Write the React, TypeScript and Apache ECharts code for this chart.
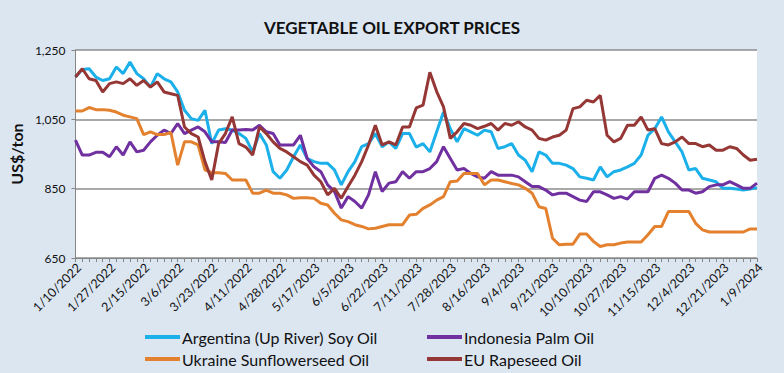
import { useEffect, useRef } from "react";
import * as echarts from "echarts";

const dateLabels = [
  "1/10/2022", "1/27/2022", "2/15/2022", "3/6/2022", "3/23/2022", "4/11/2022", "4/28/2022",
  "5/17/2023", "6/5/2023", "6/22/2023", "7/11/2023", "7/28/2023", "8/16/2023", "9/4/2023",
  "9/21/2023", "10/10/2023", "10/27/2023", "11/15/2023", "12/4/2023", "12/21/2023", "1/9/2024",
];

const argentinaSoy = [
  1172, 1194, 1196, 1172, 1162, 1167, 1201, 1182, 1215, 1182, 1167, 1143, 1182, 1167, 1158, 1129, 1076, 1052, 1047, 1076, 980, 1019, 1023, 1019, 1009, 995,
  956, 1009, 976, 899, 880, 904, 942, 976, 937, 928, 923, 923, 904, 861, 899, 928, 971, 980, 1009, 971, 985, 966, 1009, 1009, 970,
  980, 956, 1014, 1071, 1023, 985, 1023, 1014, 1004, 1019, 1014, 966, 971, 980, 947, 932, 899, 956, 947, 923, 923, 918, 908, 884, 880,
  875, 913, 884, 899, 904, 913, 923, 947, 1004, 1023, 1057, 1014, 985, 956, 904, 908, 880, 875, 870, 851, 851, 849, 846, 849, 853,
];

const indonesiaPalm = [
  990, 947, 947, 955, 955, 942, 971, 947, 985, 956, 961, 985, 1004, 1019, 1009, 1038, 1009, 1019, 1028, 1014, 985, 985, 983, 1019, 1019, 1021,
  1019, 1033, 1014, 1009, 976, 976, 976, 1004, 937, 913, 899, 861, 842, 794, 827, 813, 794, 832, 899, 842, 866, 870, 899, 880, 899,
  899, 908, 928, 971, 937, 904, 908, 894, 884, 880, 899, 889, 889, 889, 884, 870, 856, 856, 846, 832, 837, 837, 827, 817, 813,
  841, 841, 832, 822, 827, 820, 841, 841, 841, 880, 889, 880, 866, 846, 846, 837, 841, 856, 861, 861, 870, 861, 851, 851, 866,
];

const ukraineSunflower = [
  1074, 1074, 1084, 1078, 1078, 1076, 1071, 1062, 1057, 1052, 1006, 1014, 1006, 1006, 1012, 918, 985, 985, 976, 904, 896, 896, 894, 875, 875, 875,
  837, 837, 846, 837, 837, 832, 822, 824, 824, 822, 808, 803, 779, 760, 755, 746, 741, 734, 736, 741, 746, 746, 746, 774, 776,
  793, 803, 817, 827, 870, 872, 894, 894, 894, 861, 875, 875, 870, 865, 861, 851, 837, 798, 793, 707, 688, 690, 690, 719, 719,
  698, 683, 688, 688, 693, 696, 696, 696, 717, 741, 741, 784, 784, 784, 784, 750, 731, 725, 725, 725, 725, 725, 725, 734, 734,
];

const euRapeseed = [
  1172, 1196, 1167, 1162, 1129, 1153, 1158, 1153, 1167, 1148, 1162, 1143, 1158, 1129, 1124, 1119, 1028, 1009, 999, 928, 875, 980, 1009, 1057, 980, 970,
  947, 1028, 1009, 985, 966, 956, 942, 928, 918, 889, 870, 832, 851, 822, 856, 889, 928, 976, 1033, 976, 985, 976, 1028, 1028, 1083,
  1091, 1186, 1130, 1086, 995, 1014, 1038, 1033, 1023, 1030, 1038, 1019, 1038, 1033, 1043, 1028, 1019, 995, 990, 999, 1004, 1019, 1081, 1086, 1105,
  1100, 1119, 1004, 985, 995, 1033, 1033, 1057, 1019, 1023, 980, 976, 985, 999, 980, 980, 971, 976, 961, 961, 971, 966, 947, 932, 935,
];

const seriesNames = [
  "Argentina (Up River) Soy Oil",
  "Indonesia Palm Oil",
  "Ukraine Sunflowerseed Oil",
  "EU Rapeseed Oil",
];
const seriesColors = ["#1CB0EA", "#7030A0", "#E3812F", "#953735"];
const yTicks = [650, 850, 1050, 1250];
const POINTS_PER_LABEL = 5;

export default function App() {
  const ref = useRef<HTMLDivElement>(null);

  useEffect(() => {
    if (!ref.current) return;
    const chart = echarts.init(ref.current, null, { renderer: "svg" });
    const font = "Lato, 'Liberation Sans', sans-serif";
    const categories = argentinaSoy.map((_, i) =>
      i % POINTS_PER_LABEL === 0 ? dateLabels[i / POINTS_PER_LABEL] : `p${i}`
    );
    const values = [argentinaSoy, indonesiaPalm, ukraineSunflower, euRapeseed];

    const legendPos = [
      { left: 145, top: 329 },
      { left: 427, top: 329 },
      { left: 145, top: 351 },
      { left: 427, top: 351 },
    ];

    chart.setOption({
      animation: false,
      backgroundColor: "#DCE6F1",
      title: {
        text: "VEGETABLE OIL EXPORT PRICES",
        left: "center",
        top: 14,
        textStyle: { fontFamily: font, fontSize: 17, fontWeight: "bold", color: "#111" },
      },
      grid: {
        left: 73,
        right: 27,
        top: 50,
        bottom: 115,
        show: true,
        backgroundColor: "#ffffff",
        borderWidth: 0,
      },
      legend: seriesNames.map((name, i) => ({
        data: [name],
        left: legendPos[i].left,
        top: legendPos[i].top,
        padding: 0,
        icon: "rect",
        itemWidth: 35,
        itemHeight: 4,
        itemGap: 0,
        textStyle: { fontFamily: font, fontSize: 16, color: "#111", padding: [0, 0, 0, -3] },
      })),
      xAxis: {
        type: "category",
        data: categories,
        boundaryGap: false,
        axisLine: { lineStyle: { color: "#868686", width: 1 } },
        axisTick: { show: true, interval: 0, length: 4, lineStyle: { color: "#868686" } },
        axisLabel: {
          interval: (idx: number) => idx % POINTS_PER_LABEL === 0,
          rotate: 45,
          margin: 11,
          padding: [0, -5, 0, 0],
          fontFamily: font,
          fontSize: 12.5,
          color: "#111",
        },
        splitLine: { show: false },
      },
      yAxis: {
        type: "value",
        min: 650,
        max: 1250,
        name: "US$/ton",
        nameLocation: "middle",
        nameRotate: 90,
        nameGap: 48,
        nameTextStyle: { fontFamily: font, fontSize: 16, fontWeight: "bold", color: "#111" },
        axisLine: { show: true, lineStyle: { color: "#868686", width: 1 } },
        axisTick: { show: true, length: 4, customValues: yTicks, lineStyle: { color: "#868686" } },
        axisLabel: {
          customValues: yTicks,
          margin: 10,
          fontFamily: font,
          fontSize: 12,
          color: "#111",
          formatter: (v: number) => v.toLocaleString("en-US"),
        },
        splitLine: { show: true, lineStyle: { color: "#8C8C8C", width: 1.5 } },
      },
      series: seriesNames.map((name, i) => ({
        name,
        type: "line",
        data: values[i],
        symbol: "none",
        lineStyle: { color: seriesColors[i], width: 3 },
        itemStyle: { color: seriesColors[i] },
      })),
    });

    return () => chart.dispose();
  }, []);

  return (
    <div
      ref={ref}
      style={{ position: "fixed", left: 0, top: 0, width: 784, height: 373 }}
    />
  );
}
